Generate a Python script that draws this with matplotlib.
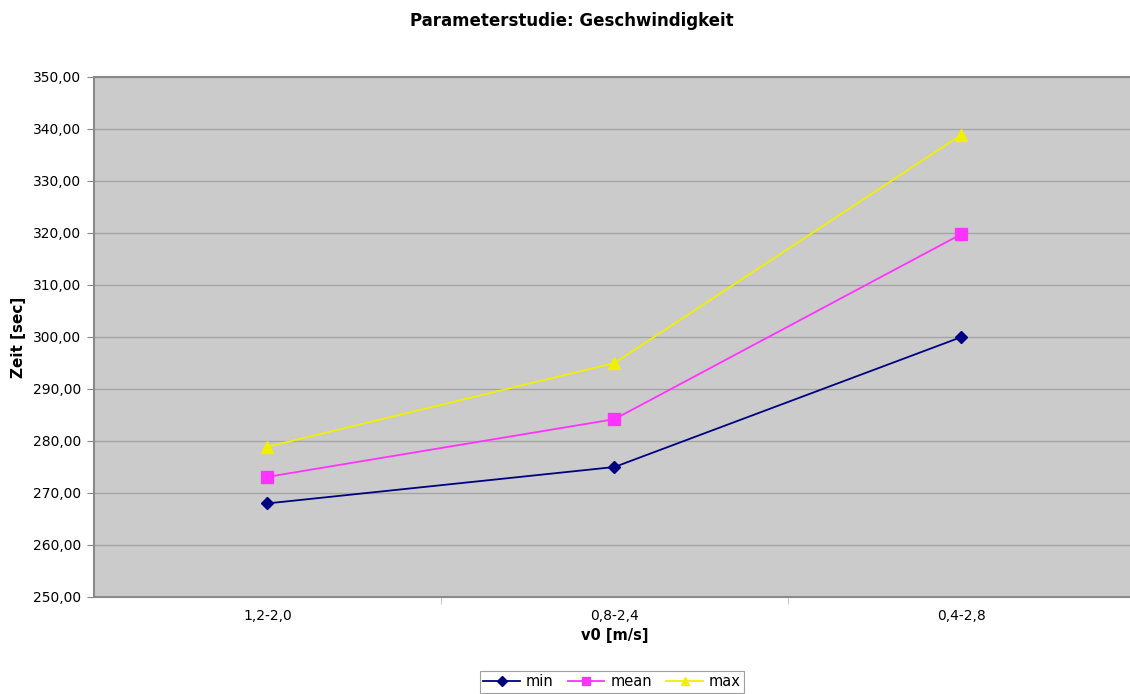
import matplotlib
matplotlib.use("Agg")
import matplotlib.pyplot as plt
from matplotlib.ticker import FuncFormatter, FixedLocator

categories = ["1,2-2,0", "0,8-2,4", "0,4-2,8"]
min_vals = [268.0, 275.0, 300.0]
mean_vals = [273.1, 284.2, 319.8]
max_vals = [278.9, 295.0, 338.9]

plt.rcParams['font.family'] = ['DejaVu Sans']

fig = plt.figure(figsize=(11.3, 6.94), dpi=100)
ax = fig.add_axes([94/1130, 97/694, 1041/1130, 520/694])
ax.set_facecolor('#cbcbcb')

x = list(range(len(categories)))
ax.plot(x, min_vals, color='#000080', marker='D', markersize=6, lw=1.3, label='min', zorder=3)
ax.plot(x, mean_vals, color='#ff33ff', marker='s', markersize=8, lw=1.3, label='mean', zorder=3)
ax.plot(x, max_vals, color='#f0f000', marker='^', markersize=8, lw=1.3, label='max', zorder=3)

ax.set_xlim(-0.5, 2.5)
ax.set_ylim(250, 350)
ax.set_yticks(range(250, 351, 10))
ax.yaxis.set_major_formatter(FuncFormatter(lambda v, p: f"{v:.2f}".replace('.', ',')))
ax.set_xticks(x)
ax.set_xticklabels(categories)
ax.xaxis.set_minor_locator(FixedLocator([0.5, 1.5]))
ax.tick_params(axis='x', which='major', length=0, pad=9, labelsize=10)
ax.tick_params(axis='x', which='minor', length=5, color='#bbbbbb')
ax.tick_params(axis='y', length=5, color='#888888', labelsize=10, pad=4)
ax.grid(axis='y', color='#a5a5a5', lw=1.0)
ax.set_axisbelow(True)
for s in ax.spines.values():
    s.set_color('#8a8a8a')
    s.set_linewidth(1.5)

ax.set_xlabel('v0 [m/s]', fontweight='bold', fontsize=10.5, labelpad=3)
ax.set_ylabel('Zeit [sec]', fontweight='bold', fontsize=11, labelpad=5)
fig.text(572/1130, 1 - 21/694, 'Parameterstudie: Geschwindigkeit', ha='center', va='center',
         fontweight='bold', fontsize=12)

leg = fig.legend(loc='center', bbox_to_anchor=(612/1130, 1 - 682/694), ncol=3, frameon=True,
                 fancybox=False, edgecolor='#888888', fontsize=10.5, handlelength=2.5,
                 columnspacing=1.0, handletextpad=0.4, borderpad=0.25, markerscale=0.8)
leg.get_frame().set_linewidth(0.8)

fig.savefig('out.png', dpi=100, facecolor='white')
